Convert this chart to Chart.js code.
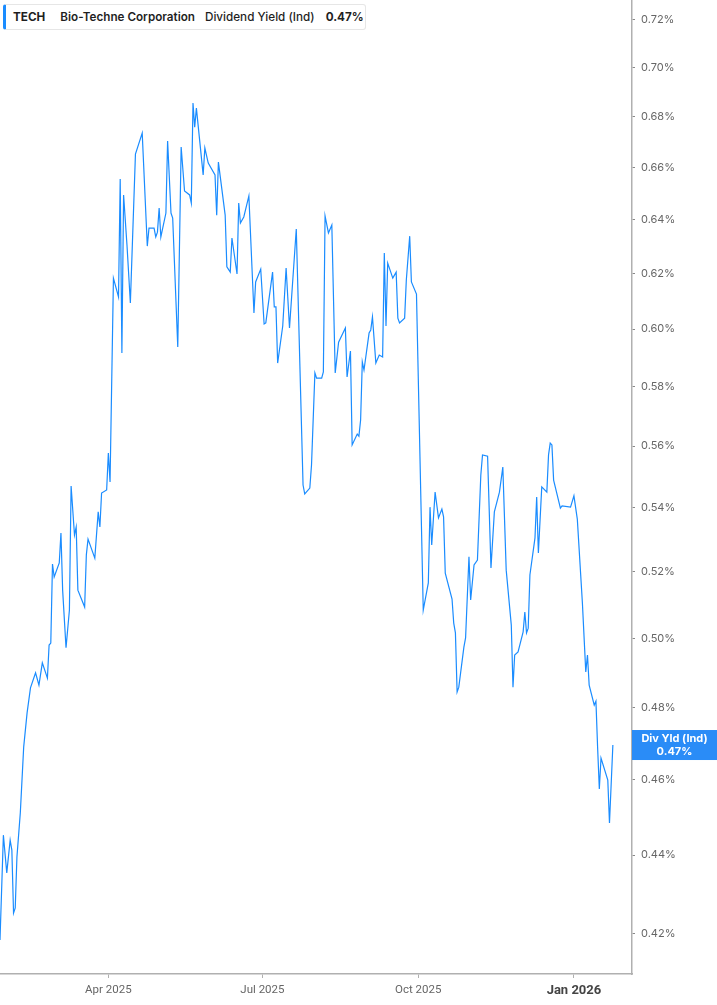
<!DOCTYPE html>
<html>
<head>
<meta charset="utf-8">
<script src="https://cdn.jsdelivr.net/npm/chart.js@4.4.1/dist/chart.umd.min.js"></script>
<style>
  html, body { margin: 0; padding: 0; background: #fff; }
  #wrap { position: relative; width: 717px; height: 1005px; }
  #head {
    position: absolute; left: 3px; top: 4px; height: 26px; width: 363px;
    box-sizing: border-box; border: 1px solid #e6e6e6; border-left: 3px solid #1a8cff;
    border-radius: 3px; background: #fff;
    font-family: Inter, "Noto Sans", sans-serif; font-size: 11.7px; color: #1f1f1f;
    display: flex; align-items: center; padding-left: 7px; white-space: nowrap;
  }
  .b { font-weight: 700; }
  .m { font-weight: 600; }
</style>
</head>
<body>
<div id="wrap">
  <canvas id="c"></canvas>
  <div id="head">
    <span class="b" style="margin-right:15px">TECH</span>
    <span class="m" style="margin-right:10px">Bio-Techne Corporation</span>
    <span style="font-weight:500;margin-right:11px">Dividend Yield (Ind)</span>
    <span class="b">0.47%</span>
  </div>
</div>
<script>
// days counted from 2025-01-01
const days = [26, 28, 30, 32, 33, 34, 35, 36, 38, 40, 42, 44, 47, 49, 51, 54, 55, 56, 57, 58,
  61, 62, 63, 65, 67, 68, 70, 71, 72, 76, 77, 78, 82, 84, 85, 86, 89, 90, 91, 93,
  96, 97, 98, 99, 101, 103, 106, 110, 113, 114, 117, 118, 119, 120, 121, 124, 125, 127, 128, 131,
  133, 135, 138, 139, 140, 141, 142, 146, 147, 149, 153, 154, 155, 159, 160, 162, 163, 166, 167, 168,
  170, 173, 176, 177, 180, 182, 183, 187, 188, 189, 190, 193, 195, 197, 201, 205, 206, 209, 210, 212,
  213, 216, 217, 218, 220, 222, 224, 226, 230, 231, 233, 234, 237, 238, 239, 240, 241, 244, 245, 246,
  248, 250, 252, 253, 254, 255, 258, 260, 261, 262, 265, 266, 268, 269, 272, 276, 279, 280, 281, 283,
  285, 287, 288, 289, 293, 294, 295, 296, 297, 300, 301, 303, 304, 306, 308, 310, 311, 314, 316, 318,
  321, 323, 325, 328, 329, 330, 332, 335, 336, 337, 338, 339, 342, 343, 344, 346, 349, 350, 351, 352,
  353, 357, 358, 363, 365, 367, 370, 372, 373, 374, 377, 378, 379, 380, 381, 385, 386, 388];

const yieldPct = [0.4185, 0.4452, 0.4354, 0.4439, 0.4413, 0.4252, 0.4265, 0.4395, 0.4511, 0.4690,
  0.4785, 0.4856, 0.4899, 0.4864, 0.4928, 0.4884, 0.4980, 0.4986, 0.5224, 0.5184,
  0.5227, 0.5320, 0.5144, 0.4972, 0.5084, 0.5470, 0.5314, 0.5339, 0.5144, 0.5093,
  0.5252, 0.5301, 0.5242, 0.5387, 0.5339, 0.5447, 0.5457, 0.5577, 0.5483, 0.6183,
  0.6115, 0.6555, 0.5916, 0.6494, 0.6305, 0.6093, 0.6652, 0.6735, 0.6301, 0.6368,
  0.6368, 0.6335, 0.6353, 0.6444, 0.6335, 0.6425, 0.6704, 0.6425, 0.6406, 0.5937,
  0.6680, 0.6509, 0.6494, 0.6463, 0.6856, 0.6759, 0.6835, 0.6571, 0.6676, 0.6617,
  0.6571, 0.6417, 0.6621, 0.6417, 0.6224, 0.6205, 0.6331, 0.6198, 0.6463, 0.6387,
  0.6410, 0.6490, 0.6057, 0.6169, 0.6216, 0.6018, 0.6022, 0.6205, 0.6079, 0.6079,
  0.5881, 0.6011, 0.6220, 0.6004, 0.6365, 0.5473, 0.5444, 0.5463, 0.5538, 0.5847,
  0.5829, 0.5829, 0.5850, 0.6414, 0.6350, 0.6380, 0.5847, 0.5954, 0.6004, 0.5833,
  0.5923, 0.5604, 0.5640, 0.5633, 0.5687, 0.5885, 0.5857, 0.5986, 0.5997, 0.6043,
  0.5881, 0.5909, 0.5902, 0.6275, 0.6011, 0.6238, 0.6183, 0.6205, 0.6039, 0.6022,
  0.6039, 0.6176, 0.6338, 0.6169, 0.6125, 0.5084, 0.5166, 0.5402, 0.5283, 0.5450,
  0.5368, 0.5396, 0.5371, 0.5196, 0.5117, 0.5045, 0.5016, 0.4844, 0.4858, 0.4974,
  0.5001, 0.5246, 0.5114, 0.5221, 0.5236, 0.5505, 0.5571, 0.5567, 0.5212, 0.5387,
  0.5450, 0.5531, 0.5205, 0.5039, 0.4858, 0.4951, 0.4960, 0.5019, 0.5078, 0.5016,
  0.5030, 0.5190, 0.5305, 0.5434, 0.5258, 0.5467, 0.5450, 0.5571, 0.5610, 0.5604,
  0.5489, 0.5399, 0.5406, 0.5402, 0.5438, 0.5364, 0.5105, 0.4902, 0.4951, 0.4864,
  0.4807, 0.4818, 0.4687, 0.4575, 0.4659, 0.4599, 0.4484, 0.4695];

const xTickDays = [90, 181, 273, 365];
const xTickLabels = ["Apr 2025", "Jul 2025", "Oct 2025", "Jan 2026"];
const yTicks = [0.42, 0.44, 0.46, 0.48, 0.50, 0.52, 0.54, 0.56, 0.58, 0.60, 0.62, 0.64, 0.66, 0.68, 0.70, 0.72];
const lastLabel = ["Div Yld (Ind)", "0.47%"];

const blue = "#1a8cff";

// blue value tag on the right axis
const lastTag = {
  id: "lastTag",
  afterDraw(chart) {
    const { ctx, chartArea, scales } = chart;
    const y = scales.y.getPixelForValue(yieldPct[yieldPct.length - 1]);
    const x0 = chartArea.right;
    const w = chart.width - x0;
    ctx.save();
    ctx.fillStyle = "#2a8cf7";
    ctx.fillRect(x0, y - 15, w, 30);
    ctx.fillStyle = "#fff";
    ctx.font = "bold 11px Inter, 'Noto Sans', sans-serif";
    ctx.textAlign = "center";
    ctx.textBaseline = "middle";
    ctx.fillText(lastLabel[0], x0 + w / 2, y - 6);
    ctx.fillText(lastLabel[1], x0 + w / 2, y + 7);
    ctx.restore();
  }
};

const pts = days.map((d, i) => ({ x: d, y: yieldPct[i] }));

new Chart(document.getElementById("c"), {
  type: "line",
  data: {
    datasets: [{
      data: pts,
      borderColor: blue,
      borderWidth: 1.2,
      pointRadius: 0,
      tension: 0,
      fill: false
    }]
  },
  options: {
    responsive: true,
    maintainAspectRatio: false,
    animation: false,
    layout: { padding: 0 },
    plugins: { legend: { display: false }, tooltip: { enabled: false } },
    scales: {
      x: {
        type: "linear",
        min: 26,
        max: 399.3,
        afterBuildTicks: (scale) => { scale.ticks = xTickDays.map(v => ({ value: v })); },
        afterFit: (scale) => {
          scale.height = 31;
          scale.paddingLeft = 0; scale.paddingRight = 0;
        },
        grid: { drawOnChartArea: false, drawTicks: true, tickLength: 4, color: "#b0b0b0" },
        border: { display: true, color: "#b0b0b0", width: 1.5 },
        ticks: {
          autoSkip: false,
          maxRotation: 0,
          padding: 5,
          color: (c) => c.tick && c.tick.value === 365 ? "#444" : "#666",
          font: (c) => c.tick && c.tick.value === 365
            ? { family: "'Liberation Sans Narrow', Roboto, sans-serif", size: 13, weight: "bold" }
            : { family: "'Liberation Sans Narrow', Roboto, sans-serif", size: 11.5 },
          callback: (v) => xTickLabels[xTickDays.indexOf(v)]
        }
      },
      y: {
        type: "logarithmic",
        position: "right",
        min: 0.4102,
        max: 0.7285,
        afterBuildTicks: (scale) => { scale.ticks = yTicks.map(v => ({ value: v })); },
        afterFit: (scale) => {
          scale.width = 85;
          scale.paddingTop = 0; scale.paddingBottom = 0;
        },
        grid: { drawOnChartArea: false, drawTicks: true, tickLength: 3, color: "#888" },
        border: { display: true, color: "#b0b0b0", width: 1.5 },
        ticks: {
          padding: 6,
          color: "#666",
          font: { family: "Inter, 'Noto Sans', sans-serif", size: 11 },
          callback: (v) => v.toFixed(2) + "%"
        }
      }
    }
  },
  plugins: [lastTag]
});
</script>
</body>
</html>
